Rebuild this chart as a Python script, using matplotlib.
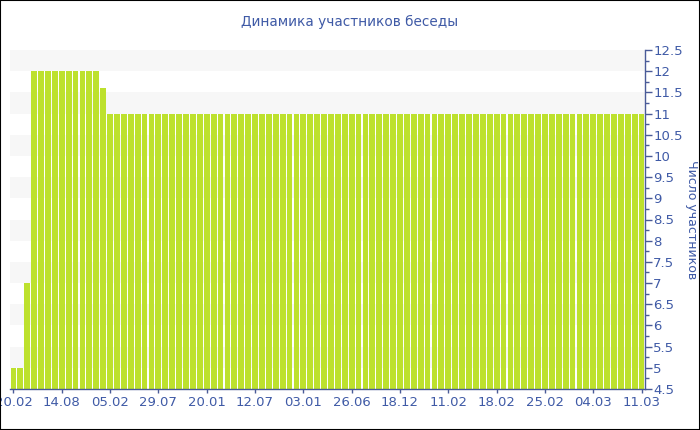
import matplotlib
matplotlib.use("Agg")
import matplotlib.pyplot as plt
from matplotlib.ticker import MultipleLocator, FuncFormatter
from matplotlib.patches import Rectangle

title = "Динамика участников беседы"
ylabel = "Число участников"
values = [5, 5, 7] + [12] * 10 + [11.6] + [11] * 78
tick_labels = ["20.02", "14.08", "05.02", "29.07", "20.01", "12.07", "03.01",
               "26.06", "18.12", "11.02", "18.02", "25.02", "04.03", "11.03"]
tick_step = 7

txt_col = "#3f5aa6"
axis_col = "#4a5b98"
bar_col = "#bde12d"

fig = plt.figure(figsize=(7, 4.3), dpi=100)
ax = fig.add_axes([10 / 700, (430 - 389) / 430, 635 / 700, (389 - 50) / 430])

x = list(range(len(values)))
ymin, ymax = 4.5, 12.5
# alternating background bands
b = 5.0
while b < ymax:
    ax.axhspan(b, b + 0.5, color="#f7f7f7", zorder=0, lw=0)
    b += 1.0

ax.bar(x, values, width=0.84, color=bar_col, edgecolor="none", zorder=2)

ax.set_xlim(-0.5, len(values) - 0.5)
ax.set_ylim(ymin, ymax)

ax.set_xticks(x[::tick_step])
ax.set_xticklabels(tick_labels)

ax.yaxis.tick_right()
ax.yaxis.set_label_position("right")
ax.yaxis.set_major_locator(MultipleLocator(0.5))
ax.yaxis.set_minor_locator(MultipleLocator(0.25))
ax.yaxis.set_major_formatter(FuncFormatter(lambda v, p: f"{v:g}"))

for s in ["top", "left"]:
    ax.spines[s].set_visible(False)
for s in ["bottom", "right"]:
    ax.spines[s].set_color(axis_col)
    ax.spines[s].set_linewidth(1)

ax.tick_params(axis="y", which="major", colors=axis_col, labelcolor=txt_col,
               length=5, width=1, labelsize=9.5, pad=1, direction="out")
ax.tick_params(axis="y", which="minor", colors=axis_col, length=3, width=1)
ax.tick_params(axis="x", colors=axis_col, labelcolor=txt_col, length=3, width=1,
               labelsize=9.5, pad=2)

ax.set_ylabel(ylabel, color=txt_col, fontsize=9, rotation=270, labelpad=11)

fig.text(0.5, 1 - 22 / 430, title, ha="center", va="center", color=txt_col, fontsize=9.8)

fig.patches.append(Rectangle((0, 0), 1, 1, transform=fig.transFigure, fill=False,
                             edgecolor="black", linewidth=1.5, zorder=10))

fig.savefig("out.png", dpi=100)
